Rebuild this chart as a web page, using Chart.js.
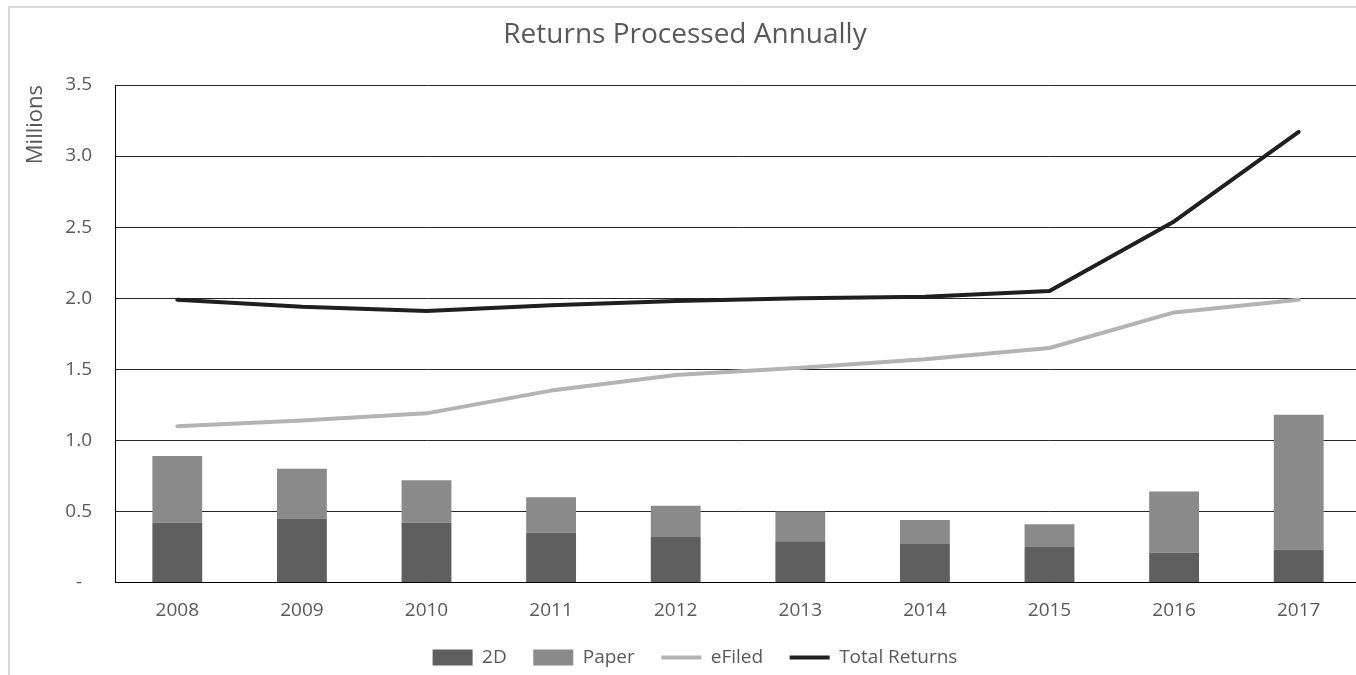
<!DOCTYPE html>
<html>
<head>
<meta charset="utf-8">
<title>Returns Processed Annually</title>
<script src="https://cdn.jsdelivr.net/npm/chart.js@4"></script>
<style>
  html, body { margin: 0; padding: 0; background: #fff; overflow: hidden; }
  #frame { position: absolute; left: 8px; top: 6px; width: 1420px; height: 720px; border: 2px solid #d9d9d9; }
  #chart { position: absolute; left: 0; top: 0; }
</style>
</head>
<body>
<div id="frame"></div>
<canvas id="chart" width="1380" height="677"></canvas>
<script>
// Returns by year, in millions
const years = ['2008', '2009', '2010', '2011', '2012', '2013', '2014', '2015', '2016', '2017'];
const twoD = [0.42, 0.45, 0.42, 0.35, 0.32, 0.29, 0.27, 0.25, 0.21, 0.23];
const paper = [0.47, 0.35, 0.30, 0.25, 0.22, 0.21, 0.17, 0.16, 0.43, 0.95];
const eFiled = [1.10, 1.14, 1.19, 1.35, 1.46, 1.51, 1.57, 1.65, 1.90, 1.99];
const totalReturns = [1.99, 1.94, 1.91, 1.95, 1.98, 2.00, 2.01, 2.05, 2.54, 3.17];
const yTicks = [0, 0.5, 1.0, 1.5, 2.0, 2.5, 3.0, 3.5];

const textColor = '#595959';
const fontFamily = '"Open Sans", sans-serif';

// legend is centred on the whole frame, which runs past the plot's right edge
const legendOffset = {
  id: 'legendOffset',
  afterLayout(chart) {
    chart.legend.right += 20;
  }
};

const ctx = document.getElementById('chart').getContext('2d');
new Chart(ctx, {
  type: 'bar',
  data: {
    labels: years,
    datasets: [
      {
        label: '2D',
        data: twoD,
        backgroundColor: '#5f5f5f',
        stack: 'bars',
        order: 2,
        pointStyle: 'rect',
        barPercentage: 1,
        categoryPercentage: 0.4
      },
      {
        label: 'Paper',
        data: paper,
        backgroundColor: '#8a8a8a',
        stack: 'bars',
        order: 2,
        pointStyle: 'rect',
        barPercentage: 1,
        categoryPercentage: 0.4
      },
      {
        type: 'line',
        label: 'eFiled',
        data: eFiled,
        borderColor: '#b3b3b3',
        backgroundColor: '#b3b3b3',
        borderWidth: 4,
        borderCapStyle: 'round',
        borderJoinStyle: 'round',
        pointRadius: 0,
        pointStyle: 'line',
        tension: 0,
        stack: 'efiled',
        order: 1
      },
      {
        type: 'line',
        label: 'Total Returns',
        data: totalReturns,
        borderColor: '#1f1f1f',
        backgroundColor: '#1f1f1f',
        borderWidth: 4,
        borderCapStyle: 'round',
        borderJoinStyle: 'round',
        pointRadius: 0,
        pointStyle: 'line',
        tension: 0,
        stack: 'total',
        order: 0
      }
    ]
  },
  plugins: [legendOffset],
  options: {
    responsive: false,
    animation: false,
    layout: { padding: { left: 9, right: 19, top: 0, bottom: 0 } },
    plugins: {
      title: {
        display: true,
        text: 'Returns Processed Annually',
        color: textColor,
        font: { family: fontFamily, size: 28, weight: 'normal' },
        padding: { top: 18, bottom: 33.4 }
      },
      legend: {
        position: 'bottom',
        labels: {
          usePointStyle: true,
          pointStyleWidth: 40,
          boxHeight: 16,
          padding: 26.5,
          color: textColor,
          font: { family: fontFamily, size: 19 },
          sort: (a, b) => a.datasetIndex - b.datasetIndex
        }
      },
      tooltip: { enabled: false }
    },
    scales: {
      x: {
        stacked: true,
        afterFit: scale => { scale.height = 39; },
        grid: { display: false, drawTicks: false },
        border: { display: true, color: '#000', width: 1 },
        ticks: { color: textColor, font: { family: fontFamily, size: 19 }, padding: 17 }
      },
      y: {
        stacked: true,
        min: 0,
        max: 3.5,
        afterBuildTicks: scale => { scale.ticks = yTicks.map(v => ({ value: v })); },
        afterFit: scale => { scale.width = 106; },
        grid: { color: '#262626', lineWidth: 1, drawTicks: false },
        border: { display: true, color: '#000', width: 1 },
        ticks: {
          color: textColor,
          font: { family: fontFamily, size: 19 },
          padding: 23,
          callback: v => v === 0 ? '-  ' : v.toFixed(1)
        },
        title: {
          display: true,
          text: 'Millions',
          align: 'end',
          color: textColor,
          font: { family: fontFamily, size: 22 },
          padding: { top: 14, bottom: 0 }
        }
      }
    }
  }
});
</script>
</body>
</html>
